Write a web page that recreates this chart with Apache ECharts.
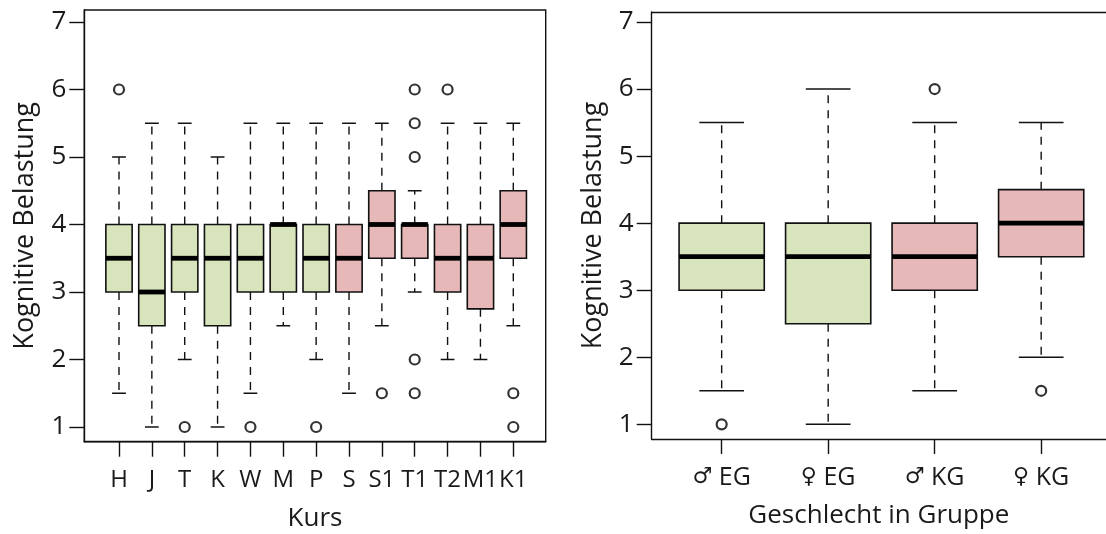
<!DOCTYPE html>
<html>
<head>
<meta charset="utf-8">
<script src="https://cdn.jsdelivr.net/npm/echarts@6/dist/echarts.min.js"></script>
<style>
  html, body { margin: 0; padding: 0; background: #fff; }
  #chart { width: 1106px; height: 534px; }
</style>
</head>
<body>
<div id="chart"></div>
<script>
  // Kurs (left panel)
  var kurse = ['H', 'J', 'T', 'K', 'W', 'M', 'P', 'S', 'S1', 'T1', 'T2', 'M1', 'K1']
  var kursGruppe = ['EG', 'EG', 'EG', 'EG', 'EG', 'EG', 'EG', 'KG', 'KG', 'KG', 'KG', 'KG', 'KG']
  var kursLow = [1.5, 1, 2, 1, 1.5, 2.5, 2, 1.5, 2.5, 3, 2, 2, 2.5]
  var kursQ1 = [3, 2.5, 3, 2.5, 3, 3, 3, 3, 3.5, 3.5, 3, 2.75, 3.5]
  var kursMedian = [3.5, 3, 3.5, 3.5, 3.5, 4, 3.5, 3.5, 4, 4, 3.5, 3.5, 4]
  var kursQ3 = [4, 4, 4, 4, 4, 4, 4, 4, 4.5, 4, 4, 4, 4.5]
  var kursHigh = [5, 5.5, 5.5, 5, 5.5, 5.5, 5.5, 5.5, 5.5, 4.5, 5.5, 5.5, 5.5]
  var kursAusreisser = [['H', 6], ['T', 1], ['W', 1], ['P', 1], ['S1', 1.5],
    ['T1', 6], ['T1', 5.5], ['T1', 5], ['T1', 2], ['T1', 1.5], ['T2', 6], ['K1', 1.5], ['K1', 1]]

  // Geschlecht in Gruppe (right panel)
  var gruppen = ['\u2642 EG', '\u2640 EG', '\u2642 KG', '\u2640 KG']
  var gruppenGruppe = ['EG', 'EG', 'KG', 'KG']
  var gruppenLow = [1.5, 1, 1.5, 2]
  var gruppenQ1 = [3, 2.5, 3, 3.5]
  var gruppenMedian = [3.5, 3.5, 3.5, 4]
  var gruppenQ3 = [4, 4, 4, 4.5]
  var gruppenHigh = [5.5, 6, 5.5, 5.5]
  var gruppenAusreisser = [['\u2642 EG', 1], ['\u2642 KG', 6], ['\u2640 KG', 1.5]]

  var yTicks = [1, 2, 3, 4, 5, 6, 7]

  var farben = { EG: '#d8e4bc', KG: '#e6b8b7' }
  var FONT = '"Open Sans"'
  var TEXT = '#1a1a1a'
  var BOX_WEX = 0.8
  var STAPLE_WEX = 0.42

  function boxData (low, q1, med, q3, high) {
    return low.map(function (v, i) {
      return [i + 1, v, q1[i], med[i], q3[i], high[i]]
    })
  }

  function outlierData (names, list) {
    return list.map(function (o) {
      return [names.indexOf(o[0]) + 1, o[1]]
    })
  }

  function makeRenderer (gruppe) {
    return function (params, api) {
      var x = api.value(0)
      var pLow = api.coord([x, api.value(1)])
      var pQ1 = api.coord([x, api.value(2)])
      var pMed = api.coord([x, api.value(3)])
      var pQ3 = api.coord([x, api.value(4)])
      var pHigh = api.coord([x, api.value(5)])
      var half = api.size([BOX_WEX, 0])[0] / 2
      var cap = api.size([STAPLE_WEX, 0])[0] / 2
      var cx = pMed[0]
      var dash = { stroke: '#111', lineWidth: 1.4, lineDash: [8, 7] }
      var solid = { stroke: '#111', lineWidth: 1.5 }
      return {
        type: 'group',
        children: [
          { type: 'line', shape: { x1: cx, y1: pQ3[1], x2: cx, y2: pHigh[1] }, style: dash },
          { type: 'line', shape: { x1: cx, y1: pQ1[1], x2: cx, y2: pLow[1] }, style: dash },
          { type: 'line', shape: { x1: cx - cap, y1: pHigh[1], x2: cx + cap, y2: pHigh[1] }, style: solid },
          { type: 'line', shape: { x1: cx - cap, y1: pLow[1], x2: cx + cap, y2: pLow[1] }, style: solid },
          {
            type: 'rect',
            shape: { x: cx - half, y: pQ3[1], width: half * 2, height: pQ1[1] - pQ3[1] },
            style: { fill: farben[gruppe[params.dataIndex]], stroke: '#111', lineWidth: 1.6 }
          },
          { type: 'line', shape: { x1: cx - half, y1: pMed[1], x2: cx + half, y2: pMed[1] },
            style: { stroke: '#000', lineWidth: 4.8 } }
        ]
      }
    }
  }

  var lineStyle = { color: '#111', width: 1.4 }
  var tickStyle = { show: true, length: 15, lineStyle: lineStyle }

  function xAxisFor (gridIndex, names, min, max, name, labelSize) {
    var pos = names.map(function (n, i) { return i + 1 })
    return {
      type: 'value',
      gridIndex: gridIndex,
      min: min,
      max: max,
      splitLine: { show: false },
      axisLine: { show: true, onZero: false, lineStyle: lineStyle },
      axisTick: Object.assign({ customValues: pos }, tickStyle),
      axisLabel: {
        customValues: pos,
        formatter: function (v) {
          var label = names[Math.round(v) - 1] || ''
          return label.replace(/^([\u2640\u2642]) /, '{sym|$1} ')
        },
        rich: { sym: { fontFamily: '"DejaVu Sans"', fontSize: 22, color: TEXT } },
        showMinLabel: true,
        showMaxLabel: true,
        hideOverlap: false,
        margin: 26,
        fontFamily: FONT,
        fontSize: labelSize,
        color: TEXT
      },
      name: name,
      nameLocation: 'middle',
      nameGap: 64,
      nameTextStyle: { fontFamily: FONT, fontSize: 26, color: TEXT }
    }
  }

  // top frame line
  function topAxisFor (gridIndex, min, max) {
    return {
      type: 'value',
      gridIndex: gridIndex,
      position: 'top',
      min: min,
      max: max,
      splitLine: { show: false },
      axisLine: { show: true, onZero: false, lineStyle: lineStyle },
      axisTick: { show: false },
      axisLabel: { show: false }
    }
  }

  function yAxisFor (gridIndex, min, max) {
    return {
      type: 'value',
      gridIndex: gridIndex,
      min: min,
      max: max,
      splitLine: { show: false },
      axisLine: { show: true, onZero: false, lineStyle: lineStyle },
      axisTick: Object.assign({ customValues: yTicks }, tickStyle),
      axisLabel: {
        customValues: yTicks,
        showMinLabel: true,
        showMaxLabel: true,
        margin: 18,
        fontFamily: FONT,
        fontSize: 26,
        color: TEXT
      },
      name: 'Kognitive Belastung',
      nameLocation: 'middle',
      nameGap: 45,
      nameTextStyle: { fontFamily: FONT, fontSize: 27, color: TEXT }
    }
  }

  var option = {
    backgroundColor: '#fff',
    animation: false,
    grid: [
      { left: 84.3, top: 10, width: 461.4, height: 431.7, outerBoundsMode: 'none',
        show: true, borderColor: '#111', borderWidth: 1.4, backgroundColor: 'transparent' },
      { left: 651.7, top: 12, right: 0, height: 427, outerBoundsMode: 'none', show: false }
    ],
    xAxis: [
      xAxisFor(0, kurse, -0.056, 13.986, 'Kurs', 24),
      xAxisFor(1, gruppen, 0.343, 0.343 + (1106 - 651.7) / 106.5, 'Geschlecht in Gruppe', 25),
      topAxisFor(1, 0.343, 0.343 + (1106 - 651.7) / 106.5)
    ],
    yAxis: [
      yAxisFor(0, 0.782, 7.178),
      yAxisFor(1, 0.781, 7.149)
    ],
    series: [
      {
        type: 'custom',
        xAxisIndex: 0,
        yAxisIndex: 0,
        renderItem: makeRenderer(kursGruppe),
        data: boxData(kursLow, kursQ1, kursMedian, kursQ3, kursHigh),
        encode: { x: 0, y: [1, 2, 3, 4, 5] }
      },
      {
        type: 'scatter',
        xAxisIndex: 0,
        yAxisIndex: 0,
        symbol: 'circle',
        symbolSize: 10,
        itemStyle: { color: 'rgba(0,0,0,0)', borderColor: '#000', borderWidth: 2.2 },
        data: outlierData(kurse, kursAusreisser)
      },
      {
        type: 'custom',
        xAxisIndex: 1,
        yAxisIndex: 1,
        renderItem: makeRenderer(gruppenGruppe),
        data: boxData(gruppenLow, gruppenQ1, gruppenMedian, gruppenQ3, gruppenHigh),
        encode: { x: 0, y: [1, 2, 3, 4, 5] }
      },
      {
        type: 'scatter',
        xAxisIndex: 1,
        yAxisIndex: 1,
        symbol: 'circle',
        symbolSize: 10,
        itemStyle: { color: 'rgba(0,0,0,0)', borderColor: '#000', borderWidth: 2.2 },
        data: outlierData(gruppen, gruppenAusreisser)
      }
    ]
  }

  var chart = echarts.init(document.getElementById('chart'), null, { renderer: 'canvas' })
  chart.setOption(option)
</script>
</body>
</html>
